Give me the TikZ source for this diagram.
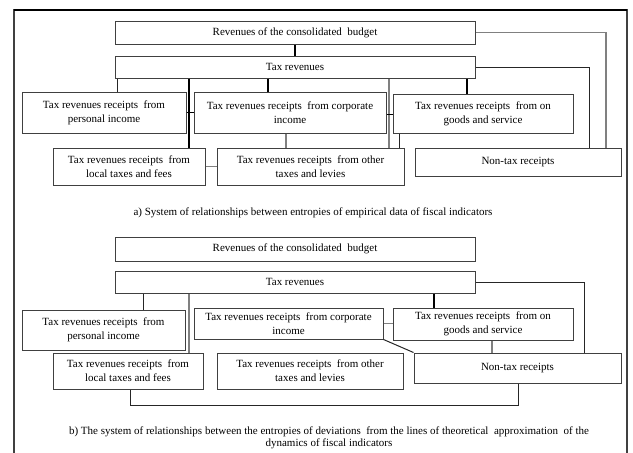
\documentclass[tikz,border=0pt]{standalone}
\usepackage{fontspec}
\setmainfont{Liberation Serif}
\usetikzlibrary{calc}
\newcommand\bx[6]{\node[box, minimum width={#4-#2}, minimum height={#5-#3}] (#1) at ({(#2+#4)/2},{(#3+#5)/2}) {#6};}
\begin{document}
\begin{tikzpicture}[x=1pt,y=-1pt,
  box/.style={draw=black!75, line width=1pt, fill=white, align=center, inner sep=0pt, font=\fontsize{11}{14}\selectfont},
  captxt/.style={align=center, inner sep=0pt, font=\fontsize{11}{12}\selectfont},
  ln/.style={line width=1pt, black!85},
  thk/.style={line width=1.8pt, black},
  gln/.style={line width=1.1pt, black!50},
  gthk/.style={line width=1.7pt, black!50}]
\useasboundingbox (0,0) rectangle (633,453);
% frame
\draw[black!75, line width=1.2pt] (14,453) -- (14,10) -- (627,10) -- (627,453);
\draw[black, line width=1.2pt] (14,10) -- (627,10);
% ---- part a ----
\bx{A1}{115}{21}{475}{44}{Revenues of the consolidated~ budget}
\bx{A2}{115}{56}{475}{78}{Tax revenues}
\bx{A3}{22}{92}{186}{133}{Tax revenues receipts~ from\\personal income}
\bx{A4}{194}{92}{386}{133}{Tax revenues receipts~ from corporate\\income}
\bx{A5}{393}{94}{573}{133}{Tax revenues receipts~ from on\\goods and service}
\bx{A6}{53}{148}{205}{185}{Tax revenues receipts~ from\\local taxes and fees}
\bx{A7}{217}{148}{404}{185}{Tax revenues receipts~ from other\\taxes and levies}
\bx{A8}{415}{148}{621}{176}{Non-tax receipts}
\node[captxt] (capa) at (313,213) {a) System of relationships between entropies of empirical data of fiscal indicators};
\coordinate (xa1) at (117,0);
\coordinate (xa2) at (189,0);
\coordinate (xa3) at (268,0);
\coordinate (xa4) at (389,0);
\coordinate (xa5) at (467,0);
\coordinate (xa6) at (286,0);
\coordinate (xa7) at (399,0);
\coordinate (xa8) at (606,0);
\coordinate (xa9) at (589,0);
\draw[thk] (A1.south) -- (A2.north);
\draw[gln] (A1.east) -| (A8.north -| xa8);
\draw[ln] (A2.east) -| (A8.north -| xa9);
\draw[ln] (A2.south -| xa1) -- (A3.north -| xa1);
\draw[thk] (A2.south -| xa2) -- (A6.north -| xa2);
\draw[thk] (A3.east) -- (A4.west |- A3.east);
\draw[thk] (A2.south -| xa3) -- (A4.north -| xa3);
\draw[gthk] (A2.south -| xa4) -- (A7.north -| xa4);
\draw[thk] ([yshift=-2pt]A4.east) -- ([yshift=-2pt]A5.west |- A4.east);
\draw[thk] (A2.south -| xa5) -- (A5.north -| xa5);
\draw[gln] (A4.south -| xa6) -- (A7.north -| xa6);
\draw[ln] (A5.south -| xa7) -- (A7.north -| xa7);
\draw[gln] (A6.east) -- (A7.west |- A6.east);
% ---- part b ----
\bx{B1}{115}{237}{475}{261}{Revenues of the consolidated~ budget}
\bx{B2}{115}{271}{475}{293}{Tax revenues}
\bx{B3}{22}{310}{185}{350}{Tax revenues receipts~ from\\personal income}
\bx{B4}{194}{308}{383}{339}{Tax revenues receipts~ from corporate\\income}
\bx{B5}{393}{308}{573}{340}{Tax revenues receipts~ from on\\goods and service}
\bx{B6}{53}{353}{203}{389}{Tax revenues receipts~ from\\local taxes and fees}
\bx{B7}{217}{353}{403}{389}{Tax revenues receipts~ from other\\taxes and levies}
\bx{B8}{414}{353}{621}{383}{Non-tax receipts}
\node[captxt] (capb) at (329,438) {b) The system of relationships between the entropies of deviations~ from the lines of theoretical~ approximation~ of the\\dynamics of fiscal indicators};
\coordinate (xb1) at (143,0);
\coordinate (xb2) at (189,0);
\coordinate (xb3) at (434,0);
\coordinate (xb4) at (584,0);
\coordinate (xb5) at (492,0);
\coordinate (xb6) at (130,0);
\coordinate (xb7) at (518,0);
\coordinate (yb) at (0,405);
\draw[ln] (B2.south -| xb1) -- (B3.north -| xb1);
\draw[gln] (B2.south -| xb2) -- (B6.north -| xb2);
\draw[thk] (B2.south -| xb3) -- (B5.north -| xb3);
\draw[ln] (B2.east) -| (B8.north -| xb4);
\draw[gln] (B4.east) -- (B5.west |- B4.east);
\draw[ln] (B4.south east) -- (B8.north west);
\draw[gln] (B5.south -| xb5) -- (B8.north -| xb5);
\draw[ln] (B6.south -| xb6) -- (xb6 |- yb) -- (xb7 |- yb) -- (B8.south -| xb7);
\end{tikzpicture}
\end{document}
